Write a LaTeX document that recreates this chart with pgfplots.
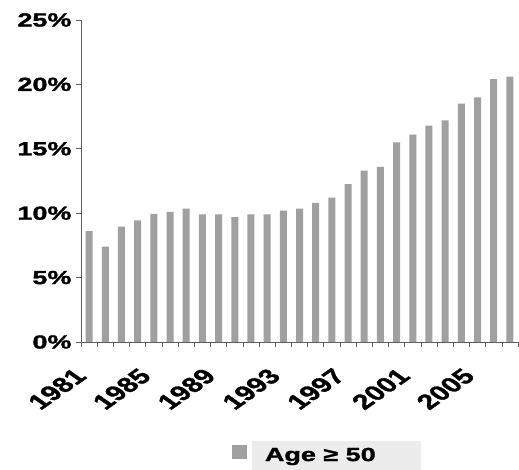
\documentclass[border=0pt]{standalone}
\usepackage{fontspec}
\usepackage{pgfplots}
\pgfplotsset{compat=1.18}
\setmainfont{Liberation Sans}[FakeBold=1.3]
\definecolor{barc}{RGB}{160,160,160}
\definecolor{axc}{RGB}{95,95,95}
\definecolor{legbg}{RGB}{236,236,236}
\newcommand{\wide}[1]{\scalebox{1.42}[1]{#1}}
\begin{document}
\begin{tikzpicture}
\path[use as bounding box] (-81pt,-128pt) rectangle (438pt,342pt);
\begin{axis}[
  at={(0pt,0pt)}, anchor=south west,
  scale only axis, width=437pt, height=322pt,
  xmin=-0.5, xmax=26.5, ymin=0, ymax=25,
  ybar, bar width=7pt,
  axis x line*=bottom, axis y line*=left,
  axis line style={axc, line width=0.8pt, -},
  ytick={0,5,...,25},
  yticklabel={\wide{\pgfmathprintnumber{\tick}\%}},
  /pgf/number format/assume math mode=true,
  xtick={0,4,...,24},
  xticklabel={\pgfmathtruncatemacro\yr{\tick+1981}\wide{\rotatebox{45}{\yr}}},
  minor xtick={-0.5,0.5,...,26.5},
  major x tick style={draw=none},
  minor x tick style={axc, line width=0.6pt},
  major y tick style={axc, line width=0.6pt},
  tick align=outside,
  major tick length=5pt, minor tick length=5pt,
  yticklabel style={xshift=-1pt, font=\bfseries\fontsize{19}{19}\selectfont},
  xticklabel style={anchor=north east, yshift=-20pt, xshift=-1pt,
    font=\bfseries\fontsize{21}{21}\selectfont, inner sep=0pt},
  legend style={at={(0.345,-0.30)}, anchor=north west, draw=none, fill=none,
    font=\bfseries\fontsize{19}{19}\selectfont, inner sep=0pt},
  legend image code/.code={\fill[barc] (0pt,-7pt) rectangle (15pt,7pt);},
  clip=false,
]
\addplot[fill=barc, draw=none] coordinates {
(0,8.6) (1,7.4) (2,8.95) (3,9.45) (4,9.95) (5,10.1) (6,10.35) (7,9.9) (8,9.9)
(9,9.7) (10,9.9) (11,9.9) (12,10.2) (13,10.35) (14,10.8) (15,11.2) (16,12.25)
(17,13.3) (18,13.6) (19,15.5) (20,16.1) (21,16.8) (22,17.2) (23,18.5) (24,19.0)
(25,20.4) (26,20.6)};
\addlegendentry{\hspace{3pt}{\setlength{\fboxsep}{7pt}\colorbox{legbg}{\hspace{6pt}\wide{Age ≥ 50}\hspace{38pt}}}}
\end{axis}
\end{tikzpicture}
\end{document}
